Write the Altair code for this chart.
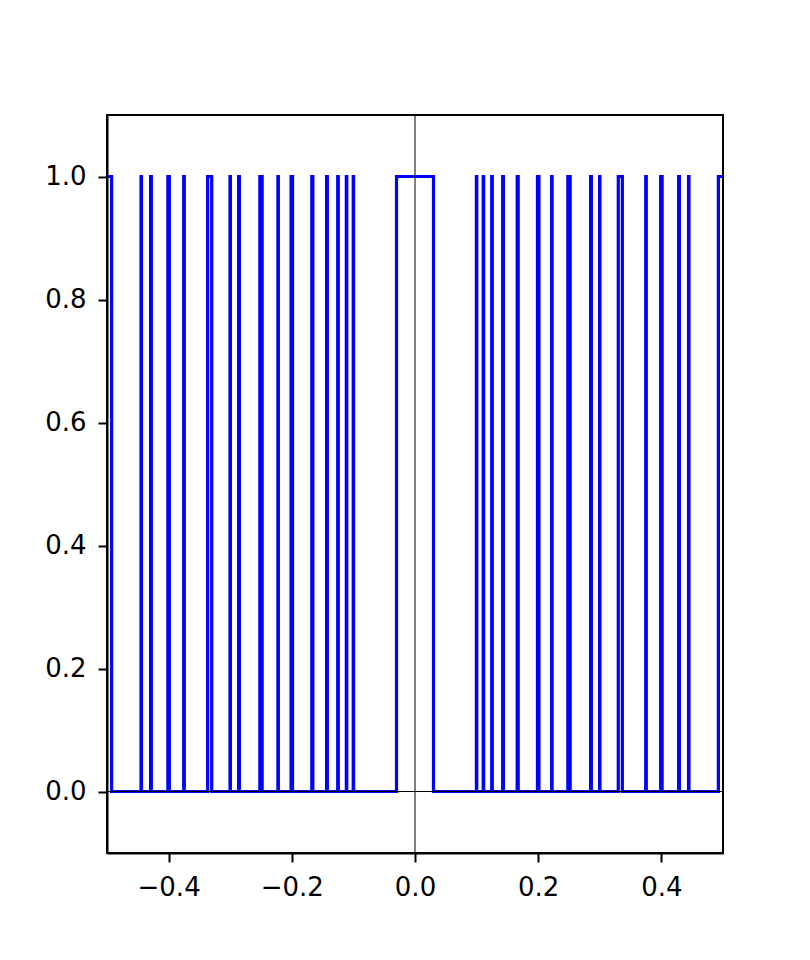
import altair as alt
import pandas as pd

# Pulse centres and their half-widths
centers = [-0.5, -0.4444, -0.4286, -0.4, -0.375, -0.3333, -0.3, -0.2857, -0.25,
           -0.2222, -0.2, -0.1667, -0.1429, -0.125, -0.1111, -0.1,
           0.0,
           0.1, 0.1111, 0.125, 0.1429, 0.1667, 0.2, 0.2222, 0.25, 0.2857, 0.3,
           0.3333, 0.375, 0.4, 0.4286, 0.4444, 0.5]
half_widths = [0.0075, 0.00037, 0.00061, 0.0012, 0.00047, 0.0033, 0.0003, 0.00061, 0.0019,
               0.00037, 0.0012, 0.00083, 0.00061, 0.00047, 0.00037, 0.0003,
               0.03,
               0.0003, 0.00037, 0.00047, 0.00061, 0.00083, 0.0012, 0.00037, 0.0019, 0.00061, 0.0003,
               0.0033, 0.00047, 0.0012, 0.00061, 0.00037, 0.0075]

x_ticks = [-0.4, -0.2, 0.0, 0.2, 0.4]
y_ticks = [0.0, 0.2, 0.4, 0.6, 0.8, 1.0]
x_domain = [-0.5, 0.5]
y_domain = [-0.1, 1.1]

rows = []
for c, hw in zip(centers, half_widths):
    lo = max(c - hw, x_domain[0])
    hi = min(c + hw, x_domain[1])
    if lo > x_domain[0]:
        rows.append((lo, 0.0))
    rows.append((lo, 1.0))
    rows.append((hi, 1.0))
    if hi < x_domain[1]:
        rows.append((hi, 0.0))
df = pd.DataFrame(rows, columns=["x", "y"])
df["order"] = range(len(df))

xscale = alt.Scale(domain=x_domain, nice=False, zero=False)
yscale = alt.Scale(domain=y_domain, nice=False, zero=False)

line = alt.Chart(df).mark_line(color="#0000ff", strokeWidth=3.2, clip=True).encode(
    x=alt.X("x:Q", scale=xscale,
            axis=alt.Axis(values=x_ticks, format=".1f", title="")),
    y=alt.Y("y:Q", scale=yscale,
            axis=alt.Axis(values=y_ticks, format=".1f", title="")),
    order="order:Q",
)

vline = alt.Chart(pd.DataFrame({"x": [0.0]})).mark_rule(color="black", strokeWidth=1).encode(
    x=alt.X("x:Q", scale=xscale)
)
hline = alt.Chart(pd.DataFrame({"y": [0.0]})).mark_rule(color="black", strokeWidth=1).encode(
    y=alt.Y("y:Q", scale=yscale)
)

chart = alt.layer(line, vline, hline).properties(
    width=616,
    height=738,
    autosize=alt.AutoSizeParams(type="none"),
    padding={"left": 99, "top": 107, "right": 70, "bottom": 90},
    background="white",
).configure_view(
    stroke="black", strokeWidth=2
).configure_axis(
    grid=False,
    domainColor="black",
    domainWidth=2,
    tickColor="black",
    tickWidth=2,
    tickSize=9,
    labelColor="black",
    labelFont="DejaVu Sans",
    labelFontSize=26,
    labelPadding=12,
)

chart.save("out.html", embed_options={"renderer": "svg", "actions": False})
